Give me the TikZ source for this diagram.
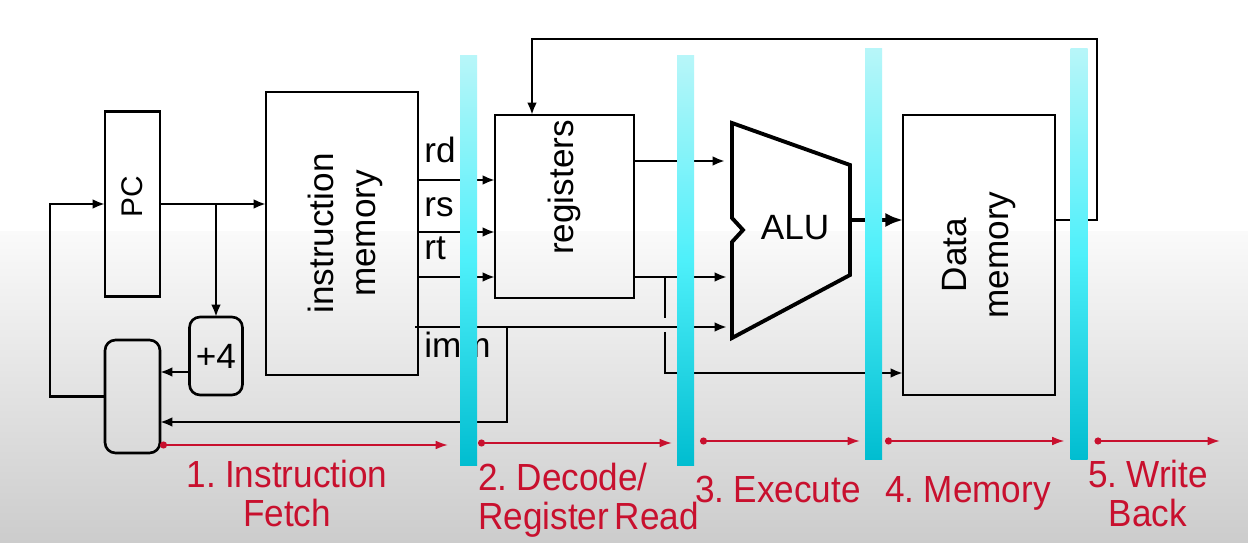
\documentclass[tikz,border=0pt]{standalone}
\usepackage{fontspec}
\setmainfont{Liberation Sans}
\newfontfamily\stagefont[FakeStretch=0.93, WordSpace=0.6]{Liberation Sans}
\usepackage{xcolor}
\usepackage{tikz}
\usetikzlibrary{arrows.meta, calc, positioning}

\definecolor{stagered}{HTML}{C8102E}
\definecolor{barTop}{HTML}{B8F6F9}
\definecolor{barMid}{HTML}{4EF0FA}
\definecolor{barBot}{HTML}{00BDD0}

\begin{document}
\begin{tikzpicture}[x=0.02cm, y=-0.02cm, >={Latex[length=7pt,width=5.5pt]},
    wire/.style={line width=1.5pt},
    box/.style={draw, line width=1.5pt, inner sep=0pt, outer sep=0pt},
    rbox/.style={box, rounded corners=6pt},
    lbl/.style={rotate=90, align=center, font=\fontsize{20}{24}\selectfont},
    field/.style={anchor=base west, inner sep=0pt, font=\fontsize{20}{24}\selectfont},
    pipebar/.style={shade, top color=barTop, bottom color=barBot, middle color=barMid,
        minimum width=0.34cm, inner sep=0pt, outer sep=0pt},
    stagearrow/.style={draw=stagered, line width=1.1pt,
        {Circle[length=4pt]}-{Latex[length=7pt,width=5pt]}},
    stagelbl/.style={text=stagered, inner sep=0pt,
        font=\stagefont\fontsize{21.5}{22}\selectfont}]
    \useasboundingbox (0,0) rectangle (1248,543);
    % 1. Nền
    \fill[white] (0,0) rectangle (1248,543);
    \shade[top color=black!2, bottom color=black!20] (0,232) rectangle (1248,543);

    % 2. Các khối
    \node[box, minimum width=1.1cm, minimum height=3.7cm] (pc) at (132.5,204) {};
    \node[lbl, font=\fontsize{17}{20}\selectfont] (pclbl) at ([yshift=0.14cm]pc) {PC};
    \node[box, minimum width=3.04cm, minimum height=5.66cm] (imem) at (342,233.5) {};
    \node[lbl] (imemlbl) at ([xshift=0.06cm]imem) {instruction\\memory};
    \node[rbox, minimum width=1.06cm, minimum height=1.56cm,
        font=\fontsize{20}{24}\selectfont] (incr) at (216,356) {+4};
    \node[rbox, minimum width=1.1cm, minimum height=2.26cm] (pcmux) at (132.5,396.5) {};
    \node[box, minimum width=2.78cm, minimum height=3.66cm] (regs) at (564.5,206.5) {};
    \node[lbl] (regslbl) at ([yshift=0.38cm]regs) {registers};
    \node[box, minimum width=3.04cm, minimum height=5.6cm] (dmem) at (979,255) {};
    \node[lbl] (dmemlbl) at (dmem) {Data\\memory};

    % ALU
    \draw[line width=2.2pt, line join=miter] (732,123) -- (850,165) -- (850,275)
        -- (732,338) -- (732,242) -- (743,230) -- (732,218) -- cycle;
    \node[font=\fontsize{20}{24}\selectfont, inner sep=0pt] (alu) at (795,228) {ALU};
    \coordinate (aluA) at (725,161);
    \coordinate (aluB) at (727,277);
    \coordinate (aluC) at (727,327);
    \coordinate (aluout) at (850,220);

    % 3. Dây nối
    \draw[wire, ->] (pc.east) -- (pc.east -| imem.west);
    \coordinate (fork) at (pc.east -| incr.north);
    \draw[wire, ->] (fork) -- (incr.north);
    \draw[wire, ->] ([yshift=-0.32cm]incr.west) -- ([yshift=-0.32cm]incr.west -| pcmux.east);
    \draw[wire, ->] (pcmux.west) -- ++(-55,0) |- (pc.west);

    \foreach \name/\ypos/\basey in {rd/180/163, rs/232/217, rt/277/260} {
        \draw[wire, ->] (imem.east |- 0,\ypos) -- (regs.west |- 0,\ypos);
        \node[field] (lbl-\name) at (424,\basey) {\name};
    }

    \coordinate (immsrc) at (415,327);
    \coordinate (immfork) at (507,327);
    \draw[wire, ->] (immsrc) -- (aluC);
    \node[field] (lbl-imm) at (424,358) {imm};
    \draw[wire, ->] (immfork) |- ([yshift=-0.51cm]pcmux.east);

    \draw[wire, ->] (regs.east |- aluA) -- (aluA);
    \draw[wire, ->] (regs.east |- aluB) -- (aluB);
    \coordinate (regfork) at (665,277);
    \coordinate (hopA) at (665,318);
    \coordinate (hopB) at (665,332);
    \draw[wire] (regfork) -- (hopA);
    \draw[wire, ->] (hopB) |- (dmem.west |- 0,373);

    \draw[line width=2.2pt, -{Latex[length=10pt,width=8pt]}] (aluout) -- (aluout -| dmem.west);

    \coordinate (wbtop) at (532,39);
    \draw[wire, ->] (dmem.east |- aluout) -- ++(42,0) |- (wbtop) -- (wbtop |- regs.north);

    % 4. Thanh ghi pipeline
    \node[pipebar, minimum height=8.22cm] (bar1) at (468.5,260.5) {};
    \node[pipebar, minimum height=8.22cm] (bar2) at (685.5,260.5) {};
    \node[pipebar, minimum height=8.24cm] (bar3) at (873.5,254) {};
    \node[pipebar, minimum height=8.24cm] (bar4) at (1079,254) {};

    % 5. Các giai đoạn
    \coordinate (wbend) at (1220,441);
    \draw[stagearrow, shorten >=0.24cm] (pcmux.east |- 0,445) -- (bar1.west |- 0,445);
    \draw[stagearrow, shorten <=0.02cm, shorten >=0.1cm] (bar1.east |- 0,443) -- (bar2.west |- 0,443);
    \draw[stagearrow, shorten <=0.12cm, shorten >=0.1cm] (bar2.east |- 0,441) -- (bar3.west |- 0,441);
    \draw[stagearrow, shorten <=0.06cm, shorten >=0.12cm] (bar3.east |- 0,441) -- (bar4.west |- 0,441);
    \draw[stagearrow, shorten <=0.14cm] (bar4.east |- 0,441) -- (wbend);

    \node[stagelbl, align=center, anchor=north] (fetchlbl) at (287,460) {1. Instruction\\Fetch};
    \node[stagelbl, align=left, anchor=north west] (decodelbl) at (478,463) {2. Decode/\\Register Read};
    \node[stagelbl, anchor=base] (execlbl) at (778,503) {3. Execute};
    \node[stagelbl, anchor=base] (memlbl) at (968,503) {4. Memory};
    \node[stagelbl, align=center, anchor=north] (wblbl) at (1148,460) {5. Write\\Back};
\end{tikzpicture}
\end{document}
